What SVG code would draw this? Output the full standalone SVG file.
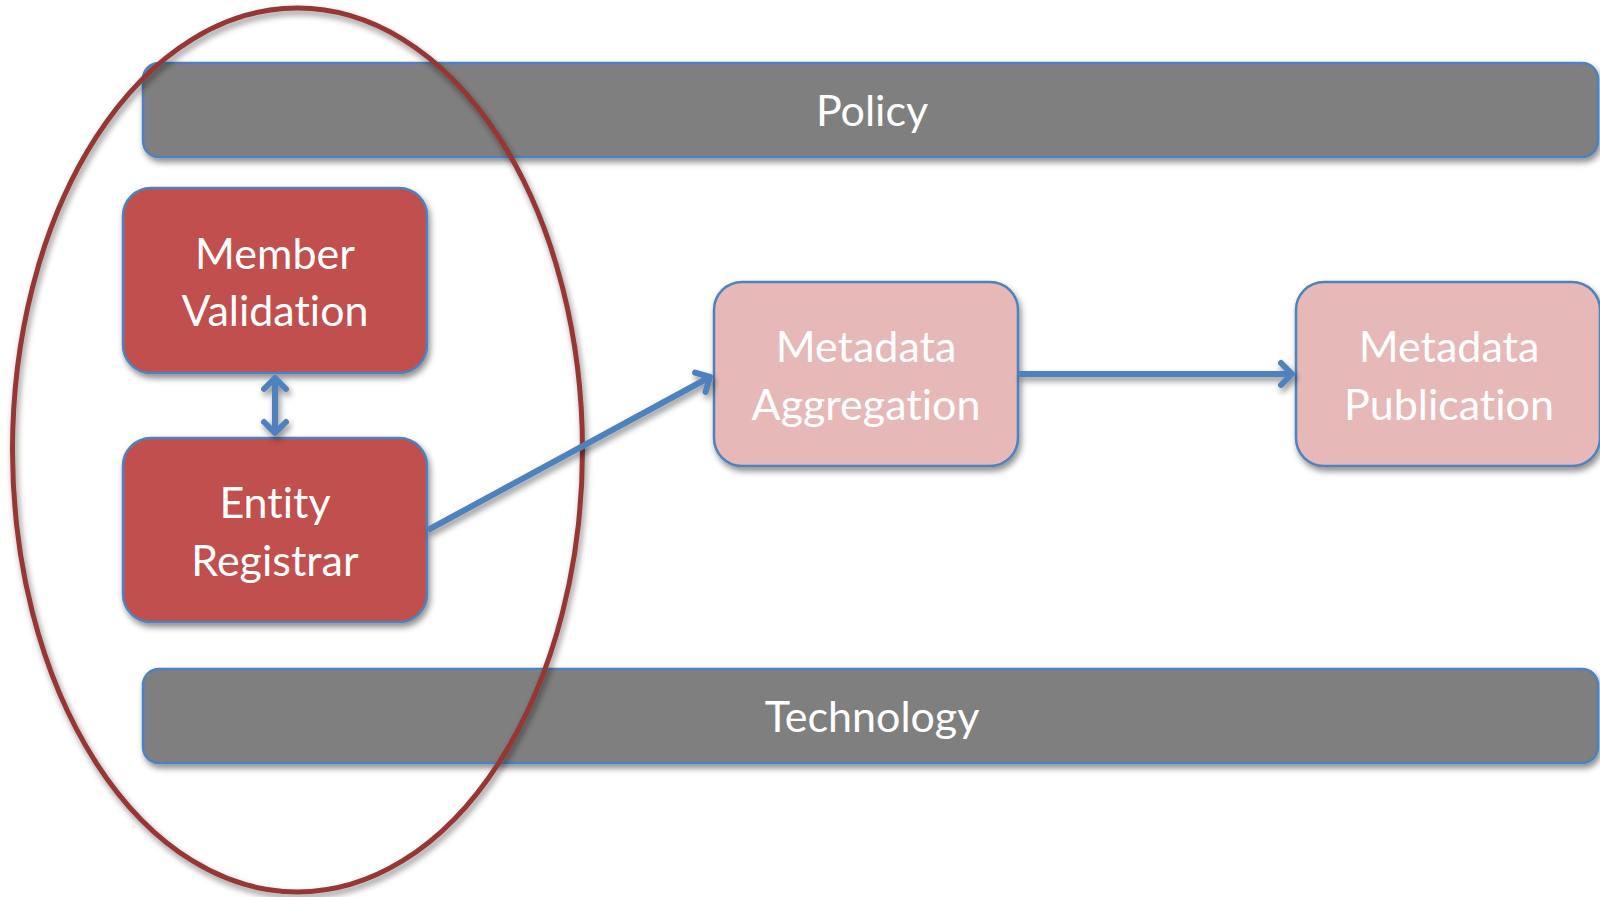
<svg xmlns="http://www.w3.org/2000/svg" width="1600" height="897" viewBox="0 0 1600 897">
<defs>
<filter id="sh" x="-10%" y="-10%" width="130%" height="140%">
<feDropShadow dx="2" dy="4" stdDeviation="3" flood-color="#000" flood-opacity="0.45"/>
</filter>
<marker id="arr" markerUnits="userSpaceOnUse" viewBox="-16 -16 22 32" refX="0" refY="0" markerWidth="22" markerHeight="32" orient="auto-start-reverse">
<path d="M-11,-11 L0,0 L-11,11" fill="none" stroke="#4F81BD" stroke-width="6" stroke-linecap="round" stroke-linejoin="round"/>
</marker>
<style>
.bar{fill:#7F7F7F;stroke:#4F81BD;stroke-width:2.5}
.dark{fill:#C0504D;stroke:#4F81BD;stroke-width:2.5}
.light{fill:#E6B9B8;stroke:#4F81BD;stroke-width:2.5}
.t{font-family:Lato,"Open Sans","Liberation Sans",sans-serif;font-size:43px;fill:#FFFFFF;text-anchor:middle;font-variant-ligatures:none;font-feature-settings:"liga" 0}
.c{fill:none;stroke:#4F81BD;stroke-width:6;stroke-linecap:butt}
</style>
</defs>
<rect width="1600" height="897" fill="#FFFFFF"/>
<g id="policy">
<rect class="bar" x="143" y="63" width="1455" height="94" rx="16" filter="url(#sh)"/>
<text class="t" x="872" y="126">Policy</text>
</g>
<g id="technology">
<rect class="bar" x="143" y="669" width="1455" height="94" rx="16" filter="url(#sh)"/>
<text class="t" x="872" y="732">Technology</text>
</g>
<g id="scope-ellipse">
<ellipse cx="297.5" cy="450" rx="285" ry="442" fill="none" stroke="#953735" stroke-width="5" filter="url(#sh)"/>
</g>
<g id="member-validation">
<rect class="dark" x="123" y="188" width="304" height="185" rx="28" filter="url(#sh)"/>
<text class="t" x="275" y="269">Member</text>
<text class="t" x="275" y="326">Validation</text>
</g>
<g id="entity-registrar">
<rect class="dark" x="123" y="438" width="304" height="184" rx="28" filter="url(#sh)"/>
<text class="t" x="275" y="518">Entity</text>
<text class="t" x="275" y="576">Registrar</text>
</g>
<g id="metadata-aggregation">
<rect class="light" x="714" y="282" width="304" height="184" rx="28" filter="url(#sh)"/>
<text class="t" x="866" y="362">Metadata</text>
<text class="t" x="866" y="420">Aggregation</text>
</g>
<g id="metadata-publication">
<rect class="light" x="1296" y="282" width="304" height="184" rx="28" filter="url(#sh)"/>
<text class="t" x="1449" y="362">Metadata</text>
<text class="t" x="1449" y="420">Publication</text>
</g>
<g id="connectors" filter="url(#sh)">
<line class="c" x1="275" y1="378" x2="275" y2="433" marker-start="url(#arr)" marker-end="url(#arr)"/>
<line class="c" x1="428" y1="530" x2="710" y2="377" marker-end="url(#arr)"/>
<line class="c" x1="1018" y1="374" x2="1292" y2="374" marker-end="url(#arr)"/>
</g>
</svg>
